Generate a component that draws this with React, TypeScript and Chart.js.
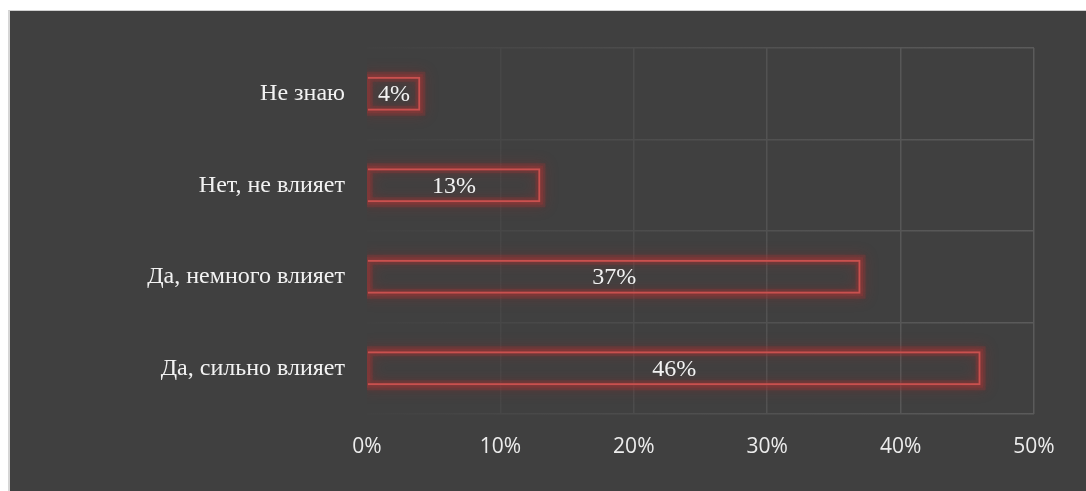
import React, { useEffect, useRef } from 'react';
import { Chart, registerables } from 'chart.js';

Chart.register(...registerables);

const categories = ['Не знаю', 'Нет, не влияет', 'Да, немного влияет', 'Да, сильно влияет'];
const values = [4, 13, 37, 46];
const xMin = 0;
const xMax = 50;
const xStep = 10;

const BAR_RED = '#c9514f';
const SERIF = '"Liberation Serif", "Times New Roman", serif';

const glowPlugin = {
  id: 'barGlow',
  beforeDatasetsDraw(chart: any) {
    const ctx = chart.ctx;
    const area = chart.chartArea;
    const meta = chart.getDatasetMeta(0);
    ctx.save();
    ctx.beginPath();
    ctx.rect(area.left, 0, chart.width - area.left, chart.height);
    ctx.clip();
    meta.data.forEach((bar: any) => {
      const p = bar.getProps(['x', 'y', 'base', 'height'], true);
      const left = Math.min(p.base, p.x);
      const right = Math.max(p.base, p.x);
      const top = p.y - p.height / 2;
      const passes = [
        { blur: 14, alpha: 0.28, w: 10 },
        { blur: 6, alpha: 0.3, w: 5 },
      ];
      passes.forEach((ps) => {
        ctx.shadowColor = 'rgba(170,45,45,0.85)';
        ctx.shadowBlur = ps.blur;
        ctx.strokeStyle = `rgba(160,55,55,${ps.alpha})`;
        ctx.lineWidth = ps.w;
        ctx.strokeRect(left, top, right - left, p.height);
      });
    });
    ctx.restore();
  },
};

const labelPlugin = {
  id: 'barLabels',
  afterDatasetsDraw(chart: any) {
    const ctx = chart.ctx;
    const meta = chart.getDatasetMeta(0);
    const ds = chart.data.datasets[0];
    ctx.save();
    ctx.font = '24px ' + SERIF;
    ctx.fillStyle = '#f2f2f2';
    ctx.textAlign = 'center';
    ctx.textBaseline = 'middle';
    meta.data.forEach((bar: any, i: number) => {
      const p = bar.getProps(['x', 'y', 'base'], true);
      ctx.fillText(ds.data[i] + '%', (p.x + p.base) / 2, p.y + 1);
    });
    ctx.restore();
  },
};

export default function App() {
  const ref = useRef<HTMLCanvasElement | null>(null);

  useEffect(() => {
    if (!ref.current) return;
    const xGridColors: Record<number, string> = {
      0: 'rgba(0,0,0,0)',
      10: '#474747',
      20: '#4c4c4c',
      30: '#525252',
      40: '#575757',
      50: '#5b5b5b',
    };
    const chart = new Chart(ref.current, {
      type: 'bar',
      data: {
        labels: categories,
        datasets: [
          {
            data: values,
            backgroundColor: 'rgba(0,0,0,0)',
            borderColor: BAR_RED,
            borderWidth: 2,
            categoryPercentage: 1,
            barPercentage: 0.372,
          },
        ],
      },
      options: {
        indexAxis: 'y',
        animation: false,
        responsive: true,
        maintainAspectRatio: false,
        layout: { padding: { top: 37, right: 52, left: 0, bottom: 0 } },
        plugins: {
          legend: { display: false },
          tooltip: { enabled: false },
        },
        scales: {
          x: {
            min: xMin,
            max: xMax,
            ticks: {
              stepSize: xStep,
              padding: 20,
              color: '#ececec',
              font: { family: '"Open Sans", sans-serif', size: 21 },
              callback: (v: any) => v + '%',
            },
            grid: {
              drawTicks: false,
              lineWidth: 1.5,
              color: (c: any) => xGridColors[c.tick ? c.tick.value : 0] || '#555',
            },
            border: { display: false },
            afterFit: (s: any) => {
              s.height = 77;
              s.paddingLeft = 0;
              s.paddingRight = 0;
            },
          },
          y: {
            ticks: {
              padding: 22,
              color: '#f2f2f2',
              font: { family: SERIF, size: 24 },
            },
            grid: {
              drawTicks: false,
              lineWidth: 1.5,
              color: (c: any) => {
                const ch = c.chart;
                const a = ch.chartArea;
                if (!a) return '#555';
                const g = ch.ctx.createLinearGradient(a.left, 0, a.right, 0);
                g.addColorStop(0, '#414141');
                g.addColorStop(0.2, '#474747');
                g.addColorStop(1, '#5b5b5b');
                return g;
              },
            },
            border: { display: false },
            afterFit: (s: any) => {
              s.width = 357;
            },
          },
        },
      },
      plugins: [glowPlugin, labelPlugin],
    });
    return () => chart.destroy();
  }, []);

  return (
    <div
      style={{
        position: 'absolute',
        left: 8,
        top: 10,
        width: 1078,
        height: 481,
        boxSizing: 'border-box',
        background: '#404040',
        borderLeft: '2px solid #d6d6d6',
        borderTop: '1px solid #cfcfcf',
        overflow: 'hidden',
      }}
    >
      <div style={{ position: 'relative', width: 1076, height: 480 }}>
        <canvas ref={ref} />
      </div>
    </div>
  );
}
